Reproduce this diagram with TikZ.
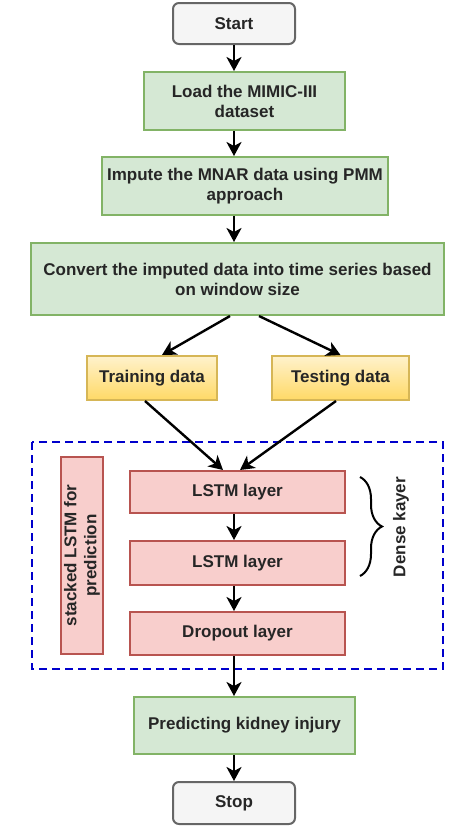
\documentclass[tikz,border=0pt]{standalone}
\usepackage{fontspec}
\setmainfont{Liberation Sans}
\usetikzlibrary{arrows.meta,decorations.pathreplacing}
\definecolor{greyfill}{HTML}{F5F5F5}
\definecolor{greyline}{HTML}{666666}
\definecolor{greenfill}{HTML}{D5E8D4}
\definecolor{greenline}{HTML}{82B366}
\definecolor{yellowtop}{HTML}{FFF2CC}
\definecolor{yellowbot}{HTML}{FFD966}
\definecolor{yellowline}{HTML}{D6B656}
\definecolor{redfill}{HTML}{F8CECC}
\definecolor{redline}{HTML}{B85450}
\definecolor{dashblue}{HTML}{0000CC}
\begin{document}
\begin{tikzpicture}[x=1pt,y=-1pt,
        box/.style={line width=2pt, inner sep=0pt, align=center, text=black!85,
            font=\fontsize{17}{20}\selectfont\bfseries},
        term/.style={box, draw=greyline, fill=greyfill, rounded corners=6pt,
            minimum width=122pt, minimum height=41pt},
        stepbox/.style={box, draw=greenline, fill=greenfill},
        databox/.style={box, draw=yellowline, top color=yellowtop, bottom color=yellowbot,
            minimum height=44pt},
        layerbox/.style={box, draw=redline, fill=redfill, minimum width=215pt},
        arr/.style={-{Stealth[length=14pt,width=15pt,inset=4pt]}, line width=2.4pt}]
    \useasboundingbox (0,0) rectangle (474,836);
    % top of the flow
    \node[term] (start) at (234,23.5) {Start};
    \node[stepbox, minimum width=201pt, minimum height=58pt] (load) at (244.5,101) {Load the MIMIC-III\\dataset};
    \node[stepbox, minimum width=286pt, minimum height=58pt] (impute) at (245,186) {Impute the MNAR data using PMM\\approach};
    \node[stepbox, minimum width=413pt, minimum height=72pt] (convert) at (237.5,279) {Convert the imputed data into time series based\\on window size};
    % split
    \node[databox, minimum width=130pt] (train) at (152,378) {Training data};
    \node[databox, minimum width=137pt] (test) at (340.5,378) {Testing data};
    % stacked LSTM part
    \draw[dashblue, line width=2.6pt, dash pattern=on 8pt off 5pt] (32,442) rectangle (443,669);
    \node[box, draw=redline, fill=redfill, line width=1.3pt, minimum width=42pt, minimum height=197pt] (stackbox) at (82,555.5) {};
    \node[box, rotate=90] (stacklbl) at (stackbox.center) {stacked LSTM for\\prediction};
    \node[layerbox, minimum height=42pt] (lstma) at (237.5,492) {LSTM layer};
    \node[layerbox, minimum height=44pt] (lstmb) at (237.5,563) {LSTM layer};
    \node[layerbox, minimum height=43pt] (drop) at (237.5,633.5) {Dropout layer};
    \draw[decorate, decoration={brace, amplitude=22pt}, line width=2pt] (360,477) -- (360,576);
    \node[box, rotate=90] (dense) at (401,527) {Dense kayer};
    % bottom of the flow
    \node[stepbox, minimum width=221pt, minimum height=57pt] (predict) at (244.5,725.5) {Predicting kidney injury};
    \node[term, minimum height=42pt] (stop) at (234,803) {Stop};
    % connectors
    \draw[arr] (start.south) -- (start.south |- load.north);
    \draw[arr] (start.south |- load.south) -- (start.south |- impute.north);
    \draw[arr] (start.south |- impute.south) -- (start.south |- convert.north);
    \draw[arr] ([xshift=-7.5pt]convert.south) -- ([xshift=10pt]train.north);
    \draw[arr] ([xshift=21.5pt]convert.south) -- (test.north);
    \draw[arr] ([xshift=-7pt]train.south) -- ([xshift=-14.5pt]lstma.north);
    \draw[arr] ([xshift=-4.5pt]test.south) -- ([xshift=2.5pt]lstma.north);
    \draw[arr] ([xshift=-3.5pt]lstma.south) -- ([xshift=-3.5pt]lstmb.north);
    \draw[arr] ([xshift=-3.5pt]lstmb.south) -- ([xshift=-3.5pt]drop.north);
    \draw[arr] ([xshift=-3.5pt]drop.south) -- (start.south |- predict.north);
    \draw[arr] (start.south |- predict.south) -- (stop.north);
\end{tikzpicture}
\end{document}
